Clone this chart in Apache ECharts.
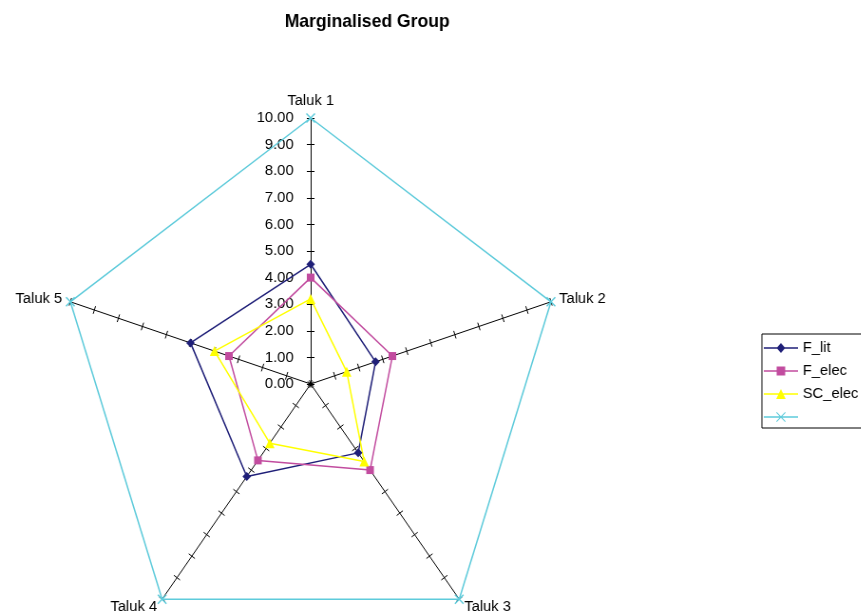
<!DOCTYPE html>
<html>
<head>
<meta charset="utf-8">
<script src="https://cdn.jsdelivr.net/npm/echarts@6/dist/echarts.min.js"></script>
<style>
  html, body { margin: 0; padding: 0; background: #fff; overflow: hidden; }
  #wrap { width: 861px; height: 616px; overflow: hidden; }
  /* the plot is slightly narrower than it is tall, so the canvas is squeezed horizontally */
  #chart { width: 906px; height: 616px; transform: scaleX(0.95); transform-origin: 0 0; }
</style>
</head>
<body>
<div id="wrap"><div id="chart"></div></div>
<script>
// Categories (radar axes), listed clockwise from the top
const taluks = ['Taluk 1', 'Taluk 2', 'Taluk 3', 'Taluk 4', 'Taluk 5'];

// Series values per taluk
const fLit   = [4.5, 2.7, 3.2, 4.3, 5.0];
const fElec  = [4.0, 3.4, 4.0, 3.55, 3.4];
const scElec = [3.2, 1.5, 3.6, 2.75, 4.0];
const outer  = [10, 10, 10, 10, 10];

// Axis scale
const axisMin = 0;
const axisMax = 10;
const axisStep = 1;

// ECharts lays radar indicators out counter-clockwise, so feed them reversed after the first
const order = [0, 4, 3, 2, 1];
const reorder = arr => order.map(i => arr[i]);

const FONT = 'Liberation Sans, Arial, sans-serif';

const crossPath = 'path://M0,1L1,0L5,4L9,0L10,1L6,5L10,9L9,10L5,6L1,10L0,9L4,5Z';

// legend icons: a line with the series marker in its middle
const lineBar = 'M0,4.25H36V5.75H0Z';
const legendIcons = {
  diamond:  'path://' + lineBar + 'M18,0L22.5,5L18,10L13.5,5Z',
  rect:     'path://' + lineBar + 'M13.5,0.5H22.5V9.5H13.5Z' + 'M0,0H0.01V0.01Z' + 'M0,10H0.01V9.99Z',
  triangle: 'path://' + lineBar + 'M18,0L23,10L13,10Z',
  cross:    'path://' + lineBar + 'M13,0.7L13.7,0L18,4.3L22.3,0L23,0.7L18.7,5L23,9.3L22.3,10L18,5.7L13.7,10L13,9.3L17.3,5Z'
};

const seriesDefs = [
  { name: 'F_lit',   values: fLit,   color: '#1f1f78', symbol: 'diamond',  size: 9, icon: legendIcons.diamond },
  { name: 'F_elec',  values: fElec,  color: '#c24c9f', symbol: 'rect',     size: 8, icon: legendIcons.rect },
  { name: 'SC_elec', values: scElec, color: '#ffff00', symbol: 'triangle', size: 10, icon: legendIcons.triangle },
  { name: ' ',       values: outer,  color: '#5ecbdb', symbol: crossPath,  size: 10, icon: legendIcons.cross }
];

const chart = echarts.init(document.getElementById('chart'), null, { renderer: 'canvas' });

const indicators = reorder(taluks).map((t, i) => {
  const ind = { name: t, min: axisMin, max: axisMax };
  if (i > 0) ind.axisLabel = { show: false };
  return ind;
});

const radarBase = {
  center: [327, 384],
  radius: 266,
  startAngle: 90,
  splitNumber: (axisMax - axisMin) / axisStep,
  shape: 'polygon',
  splitLine: { show: false },
  splitArea: { show: false }
};

chart.setOption({
  backgroundColor: '#ffffff',
  animation: false,
  title: {
    text: 'Marginalised Group',
    left: 381.5,
    top: 7,
    textAlign: 'center',
    textStyle: { fontFamily: FONT, fontSize: 18.5, fontWeight: 'bold', color: '#000' }
  },
  legend: {
    orient: 'vertical',
    left: 802,
    top: 334,
    padding: [6, 40, 3, 2],
    itemGap: 7,
    itemWidth: 36,
    itemHeight: 10,
    borderColor: '#000',
    borderWidth: 1,
    textStyle: { fontFamily: FONT, fontSize: 15.5, color: '#000' },
    data: seriesDefs.map(s => ({ name: s.name, icon: s.icon }))
  },
  radar: [
    Object.assign({}, radarBase, {
      indicator: indicators,
      axisName: { color: '#000', fontFamily: FONT, fontSize: 15.5 },
      nameGap: 9,
      axisLine: { show: true, lineStyle: { color: '#000', width: 1 } },
      axisTick: { show: true, length: 4, lineStyle: { color: '#000', width: 1 } },
      axisLabel: {
        show: true,
        color: '#000',
        fontFamily: FONT,
        fontSize: 15.5,
        margin: 18,
        formatter: v => Number(v).toFixed(2)
      }
    }),
    // second, mark-less copy whose ticks point the other way, so each tick crosses its axis
    Object.assign({}, radarBase, {
      indicator: reorder(taluks).map(t => ({ name: t, min: axisMin, max: axisMax })),
      axisName: { show: false },
      axisLine: { show: false },
      axisTick: { show: true, length: -4, lineStyle: { color: '#000', width: 1 } },
      axisLabel: { show: false }
    })
  ],
  series: seriesDefs.map(s => ({
    type: 'radar',
    radarIndex: 0,
    name: s.name,
    symbol: s.symbol,
    symbolSize: s.size,
    itemStyle: { color: s.color },
    lineStyle: { color: s.color, width: 1.5 },
    data: [{ name: s.name, value: reorder(s.values) }]
  }))
});
</script>
</body>
</html>
